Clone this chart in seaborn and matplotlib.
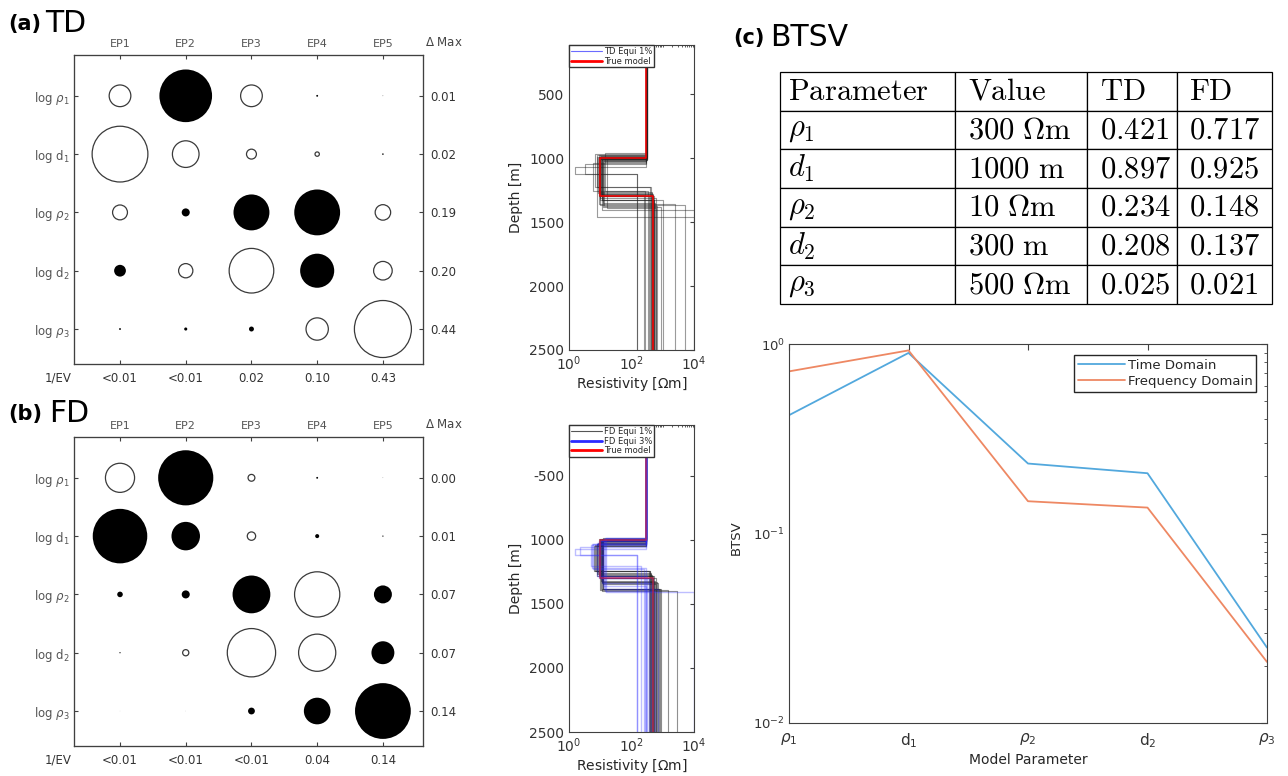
import pandas as pd
import seaborn as sns
import matplotlib.pyplot as plt
from matplotlib.lines import Line2D
from matplotlib.ticker import LogLocator, NullFormatter

sns.set_style('white')
plt.rcParams['font.family'] = ['DejaVu Sans']
plt.rcParams['xtick.direction'] = 'in'
plt.rcParams['ytick.direction'] = 'in'

# ---- data -------------------------------------------------------------
PARAM_ROWS = [r'log $\rho_1$', r'log d$_1$', r'log $\rho_2$', r'log d$_2$', r'log $\rho_3$']
EP_COLS = ['EP1', 'EP2', 'EP3', 'EP4', 'EP5']

# eigenvector components (rows = parameters, cols = EP1..EP5), >0 drawn filled
TD_EIG = [[-0.35, 0.85, -0.35, 0.03, 0.01],
          [-0.90, -0.43, -0.16, -0.07, 0.025],
          [-0.24, 0.13, 0.58, 0.74, -0.25],
          [0.19, -0.23, -0.72, 0.55, -0.30],
          [0.03, 0.05, 0.08, -0.36, -0.92]]
TD_DMAX = ['0.01', '0.02', '0.19', '0.20', '0.44']
TD_INV_EV = ['<0.01', '<0.01', '0.02', '0.10', '0.43']

FD_EIG = [[-0.47, 0.89, -0.11, 0.03, 0.008],
          [0.88, 0.46, -0.135, 0.065, 0.02],
          [0.09, 0.13, 0.61, -0.73, 0.29],
          [0.02, -0.10, -0.78, -0.60, 0.37],
          [0.005, 0.005, 0.11, 0.43, 0.90]]
FD_DMAX = ['0.00', '0.01', '0.07', '0.07', '0.14']
FD_INV_EV = ['<0.01', '<0.01', '<0.01', '0.04', '0.14']

# layered models: rho1, thickness1, rho2, thickness2, rho3
TRUE_MODEL = [300, 1000, 10, 300, 500]

TD_R1 = [300, 295, 305, 290, 300, 310, 298, 302, 285, 300, 295, 305, 300, 290,
         300, 305, 295, 300, 300, 310, 292, 300, 298, 303, 300, 300, 300, 300]
TD_T1 = [1000, 990, 1010, 975, 1020, 995, 1005, 985, 965, 1030, 1000, 1015, 1068, 1050,
         980, 1000, 1010, 990, 1025, 1005, 995, 1000, 985, 1015, 960, 1040, 1000, 1010]
TD_R2 = [10, 9, 11, 8, 12, 10, 9.5, 10.5, 7, 13, 8.5, 11.5, 1.6, 3.2,
         9, 10, 11, 8, 12, 10, 9, 10, 9.5, 10.5, 14, 6, 16, 9]
TD_T2 = [300, 275, 320, 255, 330, 290, 305, 300, 260, 345, 270, 315, 60, 78,
         380, 365, 396, 473, 360, 320, 300, 290, 310, 285, 300, 215, 390, 280]
TD_R3 = [500, 450, 540, 420, 560, 470, 600, 430, 390, 650, 440, 520, 146, 146,
         2460, 5100, 10000, 10000, 900, 1000, 350, 490, 460, 510, 280, 330, 600, 250]

FD1_R1 = [300] * 22
FD1_T1 = [1000, 990, 1010, 1040, 1030, 985, 1005, 995, 1020, 1000, 1050,
          990, 1010, 1000, 1025, 1015, 995, 1035, 1005, 1045, 1000, 1010]
FD1_R2 = [10, 9, 11, 7, 8, 12, 10.5, 9.5, 8.5, 11.5, 7.5,
          12.5, 10, 11, 9, 10, 11, 8, 12, 6.5, 9.5, 10.5]
FD1_T2 = [300, 280, 320, 200, 250, 360, 315, 290, 240, 340, 190,
          390, 380, 400, 260, 285, 330, 230, 380, 195, 300, 370]
FD1_R3 = [500, 460, 540, 400, 450, 620, 560, 480, 430, 700, 380,
          800, 1500, 2800, 520, 600, 650, 420, 900, 360, 470, 750]

FD3_R1 = [300] * 14
FD3_T1 = [1070, 1052, 985, 1000, 1030, 990, 1010, 1040, 995, 1020, 1000, 1035, 985, 1010]
FD3_R2 = [1.6, 2.2, 15, 10, 6, 12, 9, 5, 13, 8, 11, 5.5, 14, 10]
FD3_T2 = [47, 65, 420, 300, 200, 370, 290, 160, 390, 260, 340, 185, 410, 280]
FD3_R3 = [146, 146, 10000, 500, 250, 300, 350, 200, 700, 320, 420, 300, 560, 280]

BTSV_TICKS = [r'$\rho_1$', r'd$_1$', r'$\rho_2$', r'd$_2$', r'$\rho_3$']
TD_BTSV = [0.421, 0.897, 0.234, 0.208, 0.025]
FD_BTSV = [0.717, 0.925, 0.148, 0.137, 0.021]
TABLE_PARAMS = [r'\rho_1', 'd_1', r'\rho_2', 'd_2', r'\rho_3']
TABLE_VALUES = [r'300\ \Omega m', r'1000\ m', r'10\ \Omega m', r'300\ m', r'500\ \Omega m']

TD_COLOR = '#52a8dd'
FD_COLOR = '#ee8863'
AX_COLOR = '#404040'
S_UNIT = 1990  # marker area (pt^2) of a unit component

W, H = 1288, 776
fig = plt.figure(figsize=(W / 100, H / 100), dpi=100)


def frame(l, t, r, b):
    return [l / W, 1 - b / H, (r - l) / W, (b - t) / H]


def style_spines(ax):
    for sp in ax.spines.values():
        sp.set_color(AX_COLOR)
        sp.set_linewidth(0.8)


# ---- (a)/(b) eigenvector bubble panels -------------------------------
def bubble_panel(ax, eig, dmax, inv_ev, top_gap):
    recs = []
    for i, row in enumerate(eig):
        for j, v in enumerate(row):
            recs.append((j + 1, i + 1, v * v, v > 0))
    df = pd.DataFrame(recs, columns=['ep', 'par', 'area', 'filled'])
    sns.scatterplot(data=df[df['filled']], x='ep', y='par', size='area',
                    sizes=(0, S_UNIT), size_norm=(0, 1), color='black',
                    edgecolor='none', linewidth=0, legend=False, ax=ax)
    sns.scatterplot(data=df[~df['filled']], x='ep', y='par', size='area',
                    sizes=(0, S_UNIT), size_norm=(0, 1), facecolor='white',
                    edgecolor='#3a3a3a', linewidth=0.9, legend=False, ax=ax)
    ax.set_xlim(0.3, 5.61)
    ax.set_ylim(5.6, 0.3)
    ax.set_xlabel('')
    ax.set_ylabel('')
    ax.set_xticks(range(1, 6), inv_ev)
    ax.set_yticks(range(1, 6), PARAM_ROWS)
    ax.tick_params(axis='x', length=3, pad=6, labelsize=8.5, colors=AX_COLOR, labelcolor='#333333')
    ax.tick_params(axis='y', length=3, pad=3, labelsize=8.5, colors=AX_COLOR, labelcolor='#555555')
    top = ax.twiny()
    top.set_xlim(ax.get_xlim())
    top.set_xticks(range(1, 6), EP_COLS)
    top.tick_params(axis='x', length=3, pad=4, labelsize=8, colors=AX_COLOR, labelcolor='#555555')
    right = ax.twinx()
    right.set_ylim(ax.get_ylim())
    right.set_yticks(range(1, 6), dmax)
    right.tick_params(axis='y', length=3, pad=5, labelsize=8.5, colors=AX_COLOR, labelcolor='#333333')
    for a in (ax, top, right):
        style_spines(a)
    ax.text(1.005, 1 + top_gap, r'$\Delta$ Max', transform=ax.transAxes,
            ha='left', va='center', fontsize=8.5, color='#444444')
    ax.text(-0.046, -0.045, '1/EV', transform=ax.transAxes,
            ha='center', va='center', fontsize=8.5, color='#333333')


ax_a = fig.add_axes(frame(74, 55, 423, 364))
bubble_panel(ax_a, TD_EIG, TD_DMAX, TD_INV_EV, 0.039)
ax_b = fig.add_axes(frame(74, 437, 423, 746))
bubble_panel(ax_b, FD_EIG, FD_DMAX, FD_INV_EV, 0.042)


# ---- depth panels -------------------------------------------------------
def model_frame(r1, t1, r2, t2, r3):
    recs = []
    for k in range(len(r1)):
        z1 = t1[k]
        z2 = t1[k] + t2[k]
        for rho, z in zip([r1[k], r1[k], r2[k], r2[k], r3[k], r3[k]],
                          [0, z1, z1, z2, z2, 2500]):
            recs.append((k, rho, z))
    return pd.DataFrame(recs, columns=['model', 'rho', 'depth'])


def draw_models(ax, df, color, alpha, lw):
    sns.lineplot(data=df, x='rho', y='depth', units='model', estimator=None,
                 sort=False, color=color, alpha=alpha, lw=lw, ax=ax)


def depth_axes(ax, top_depth, ylabels):
    ax.set_xscale('log')
    ax.set_xlim(1, 1e4)
    ax.set_ylim(2500, top_depth)
    ax.set_xticks([1, 1e2, 1e4], [r'$10^{0}$', r'$10^{2}$', r'$10^{4}$'])
    ax.xaxis.set_minor_locator(LogLocator(base=10, subs=range(1, 10), numticks=30))
    ax.xaxis.set_minor_formatter(NullFormatter())
    ax.set_yticks([500, 1000, 1500, 2000, 2500], ylabels)
    ax.tick_params(which='both', top=True, right=True, colors=AX_COLOR,
                   labelcolor='#333333', labelsize=10)
    ax.tick_params(which='major', length=3)
    ax.tick_params(which='minor', length=1.5)
    ax.set_xlabel(r'Resistivity [$\Omega$m]', fontsize=10, color='#262626', labelpad=1)
    ax.set_ylabel('Depth [m]', fontsize=10, color='#262626')
    style_spines(ax)


true_df = model_frame(*[[v] for v in TRUE_MODEL])

ax_da = fig.add_axes(frame(569, 45, 694, 350))
draw_models(ax_da, model_frame(TD_R1, TD_T1, TD_R2, TD_T2, TD_R3), '#222222', 0.45, 0.8)
draw_models(ax_da, true_df, 'red', 1, 1.1)
depth_axes(ax_da, 117, ['500', '1000', '1500', '2000', '2500'])
ax_da.legend(handles=[Line2D([], [], color='#6b6bff', lw=0.8),
                      Line2D([], [], color='red', lw=2)],
             labels=['TD Equi 1%', 'True model'], loc='upper left',
             bbox_to_anchor=(0, 1), borderaxespad=0, fontsize=6, handlelength=3.8,
             handletextpad=0.2, borderpad=0.2, labelspacing=0.1, fancybox=False,
             framealpha=1, edgecolor='#333333')

ax_db = fig.add_axes(frame(569, 425, 694, 732))
draw_models(ax_db, model_frame(FD1_R1, FD1_T1, FD1_R2, FD1_T2, FD1_R3), '#222222', 0.5, 0.8)
draw_models(ax_db, model_frame(FD3_R1, FD3_T1, FD3_R2, FD3_T2, FD3_R3), '#2a2aff', 0.3, 1.0)
draw_models(ax_db, true_df, '#e0203a', 0.6, 1.3)
depth_axes(ax_db, 102, ['-500', '1000', '1500', '2000', '2500'])
ax_db.legend(handles=[Line2D([], [], color='#555555', lw=0.8),
                      Line2D([], [], color='#2a2aff', lw=2),
                      Line2D([], [], color='red', lw=2)],
             labels=['FD Equi 1%', 'FD Equi 3%', 'True model'], loc='upper left',
             bbox_to_anchor=(0, 1), borderaxespad=0, fontsize=6, handlelength=3.8,
             handletextpad=0.2, borderpad=0.2, labelspacing=0.1, fancybox=False,
             framealpha=1, edgecolor='#333333')

# ---- (c) table ---------------------------------------------------------
ax_t = fig.add_axes(frame(780, 72, 1272, 304))
ax_t.axis('off')
header = [r'$\mathrm{Parameter}$', r'$\mathrm{Value}$', r'$\mathrm{TD}$', r'$\mathrm{FD}$']
cells = []
for p, v, td, fd in zip(TABLE_PARAMS, TABLE_VALUES, TD_BTSV, FD_BTSV):
    cells.append(['$' + p + '$', r'$\mathrm{' + v + '}$',
                  r'$\mathrm{%.3f}$' % td, r'$\mathrm{%.3f}$' % fd])
col_w = [175, 132, 90, 95]
tbl = ax_t.table(cellText=cells, colLabels=header, cellLoc='left', colLoc='left',
                 colWidths=[c / sum(col_w) for c in col_w], bbox=[0, 0, 1, 1])
tbl.auto_set_font_size(False)
pads = [0.045, 0.1, 0.15, 0.13]
for (r, c), cell in tbl.get_celld().items():
    cell.set_linewidth(0.9)
    cell.set_edgecolor('black')
    cell.PAD = pads[c]
    t = cell.get_text()
    t.set_fontsize(22)
    t.set_color('black')
    t.set_math_fontfamily('cm')

# ---- (c) BTSV plot -----------------------------------------------------
ax_c = fig.add_axes(frame(789, 344, 1267, 723))
params = list(range(len(TD_BTSV)))
sns.lineplot(x=params, y=TD_BTSV, color=TD_COLOR, lw=1.3, label='Time Domain', ax=ax_c)
sns.lineplot(x=params, y=FD_BTSV, color=FD_COLOR, lw=1.3, label='Frequency Domain', ax=ax_c)
ax_c.set_yscale('log')
ax_c.set_ylim(1e-2, 1)
ax_c.set_xlim(0, 4)
ax_c.set_xticks(params, BTSV_TICKS)
ax_c.set_yticks([1e-2, 1e-1, 1], [r'$10^{-2}$', r'$10^{-1}$', r'$10^{0}$'])
ax_c.tick_params(which='both', top=True, right=True, colors=AX_COLOR, labelcolor='#333333')
ax_c.tick_params(axis='x', labelsize=11, length=4, pad=6)
ax_c.tick_params(axis='y', which='major', labelsize=9.5, length=4, pad=3)
ax_c.tick_params(axis='y', which='minor', length=2.5)
ax_c.set_xlabel('Model Parameter', fontsize=10, color='#262626', labelpad=2)
ax_c.set_ylabel('BTSV', fontsize=9.5, color='#262626')
ax_c.yaxis.set_label_coords(-0.096, 0.49)
style_spines(ax_c)
ax_c.legend(loc='upper right', fontsize=9.5, handlelength=3.6, handletextpad=0.2,
            borderpad=0.3, labelspacing=0.25, borderaxespad=0.8, fancybox=False,
            framealpha=1, edgecolor='#262626')

# ---- panel titles ------------------------------------------------------
for x0, x1, y, tag, name in [(8, 45, 24, '(a)', 'TD'), (8, 49, 414, '(b)', 'FD'),
                             (733, 770, 38, '(c)', 'BTSV')]:
    fig.text(x0 / W, 1 - y / H, tag, fontsize=15, fontweight='bold', va='center', color='black')
    fig.text(x1 / W, 1 - y / H, name, fontsize=21.5, va='center', color='black')

fig.savefig('out.png', dpi=100)
